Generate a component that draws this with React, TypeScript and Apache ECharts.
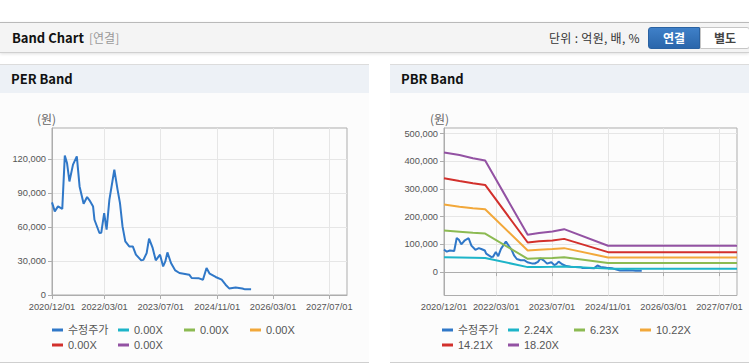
import React, { useEffect, useRef } from 'react';
import * as echarts from 'echarts';

// ---- data ----
const priceDates = [
  '2020-12-01', '2020-12-25', '2021-01-22', '2021-02-28', '2021-03-22', '2021-04-10', '2021-05-01',
  '2021-06-01', '2021-07-04', '2021-07-28', '2021-09-01', '2021-10-01', '2021-10-22', '2021-11-22',
  '2021-12-04', '2022-01-16', '2022-02-01', '2022-02-26', '2022-03-19', '2022-04-12', '2022-05-25',
  '2022-06-22', '2022-07-13', '2022-08-04', '2022-08-28', '2022-10-01', '2022-11-01', '2022-11-28',
  '2023-01-13', '2023-02-01', '2023-03-01', '2023-03-22', '2023-04-22', '2023-05-19', '2023-06-25',
  '2023-07-22', '2023-08-10', '2023-08-28', '2023-09-28', '2023-11-04', '2023-12-10', '2024-03-04',
  '2024-03-25', '2024-05-28', '2024-07-01', '2024-08-01', '2024-08-28', '2024-10-19', '2024-12-10',
  '2025-01-13', '2025-02-13', '2025-04-10', '2025-06-07', '2025-07-01', '2025-08-22',
];
const priceValues = [
  81700, 73800, 78200, 76000, 123000, 116500, 100200,
  115000, 122300, 95800, 80500, 86500, 83500, 78000,
  66400, 54700, 55000, 72300, 57600, 84000, 110500,
  93000, 81000, 60500, 47300, 42900, 42900, 35600,
  30600, 31000, 37000, 49700, 41500, 30600, 35600,
  25200, 29600, 37600, 28200, 21700, 19400, 17900,
  15000, 14700, 13500, 23800, 18800, 15900, 13500,
  9100, 5800, 6700, 5800, 5000, 5000,
];

const bandDates = [
  '2020-12-01', '2021-04-15', '2021-08-10', '2021-11-25', '2022-12-01',
  '2023-03-10', '2023-07-05', '2023-10-15', '2024-11-01', '2027-12-01',
];
const pbrBand224 = [54000, 53000, 52000, 51000, 18000, 18500, 19000, 20000, 12500, 12500];
const pbrBand623 = [150000, 146000, 142000, 139000, 48000, 50000, 51000, 54000, 32500, 32500];
const pbrBand1022 = [244000, 236000, 231000, 227000, 78000, 81000, 83000, 86500, 53000, 53000];
const pbrBand1421 = [339000, 329000, 321000, 315000, 107000, 111000, 114000, 120000, 72000, 72000];
const pbrBand1820 = [432000, 423000, 411000, 403000, 135000, 141000, 147000, 155000, 95000, 95000];

const priceName = '수정주가';
const perBandNames = ['0.00X', '0.00X', '0.00X', '0.00X', '0.00X'];
const pbrBandNames = ['2.24X', '6.23X', '10.22X', '14.21X', '18.20X'];

const xTickLabels = ['2020/12/01', '2022/03/01', '2023/07/01', '2024/11/01', '2026/03/01', '2027/07/01'];
const perYTicks = [0, 30000, 60000, 90000, 120000];
const pbrYTicks = [0, 100000, 200000, 300000, 400000, 500000];

const priceColor = '#3078c8';
const bandColors = ['#1db4c8', '#8cba52', '#f2a83a', '#d2302c', '#9352a3'];

const FONT = "'Liberation Sans', 'Noto Sans CJK KR', sans-serif";
const KFONT = "'Noto Sans CJK KR', sans-serif";

function ts(s: string): number {
  const [y, m, d] = s.split(/[-\/]/).map(Number);
  return Date.UTC(y, m - 1, d);
}
function pad(n: number) {
  return n < 10 ? '0' + n : '' + n;
}
function fmtDate(v: number) {
  const d = new Date(v);
  return `${d.getUTCFullYear()}/${pad(d.getUTCMonth() + 1)}/${pad(d.getUTCDate())}`;
}
function fmtNum(v: number) {
  return Math.round(v).toLocaleString('en-US');
}

function buildOption(kind: 'per' | 'pbr') {
  const isPbr = kind === 'pbr';
  const bandValues = isPbr ? [pbrBand224, pbrBand623, pbrBand1022, pbrBand1421, pbrBand1820] : null;
  const labels = isPbr ? pbrBandNames : perBandNames;
  // unique internal ids so duplicate display labels each get a legend entry
  const ids = labels.map((l, k) => `${l}#${k}`);
  const display: Record<string, string> = { [priceName]: priceName };
  ids.forEach((id, k) => (display[id] = labels[k]));
  const series: any[] = [
    {
      name: priceName,
      type: 'line',
      data: priceDates.map((d, i) => [ts(d), priceValues[i]]),
      showSymbol: false,
      symbol: 'none',
      lineStyle: { color: priceColor, width: 2 },
      itemStyle: { color: priceColor },
    },
  ];
  ids.forEach((id, k) => {
    series.push({
      name: id,
      type: 'line',
      data: bandValues ? bandDates.map((d, i) => [ts(d), bandValues[k][i]]) : [],
      showSymbol: false,
      symbol: 'none',
      lineStyle: { color: bandColors[k], width: 2 },
      itemStyle: { color: bandColors[k] },
    });
  });
  const yTicks = isPbr ? pbrYTicks : perYTicks;
  const xTicks = xTickLabels.map(ts);
  return {
    animation: false,
    textStyle: { fontFamily: FONT },
    grid: isPbr
      ? { left: 59, top: 33, right: 12, bottom: 66.5, show: true, borderColor: '#adadad', borderWidth: 1, outerBoundsMode: 'none', containLabel: false }
      : { left: 52, top: 33, right: 23, bottom: 67, show: true, borderColor: '#adadad', borderWidth: 1, outerBoundsMode: 'none', containLabel: false },
    graphic: [
      {
        type: 'text',
        left: isPbr ? 45 : 37,
        top: 17,
        style: { text: '(원)', fill: '#666', font: `12px ${KFONT}` },
      },
    ],
    legend: {
      left: isPbr ? 57 : 52,
      top: 229,
      width: 262,
      orient: 'horizontal',
      itemWidth: 11,
      itemHeight: 3,
      itemGap: 3,
      icon: 'rect',
      selectedMode: false,
      padding: 0,
      formatter: (name: string) => display[name] ?? name,
      textStyle: { fontSize: 11, color: '#555', fontFamily: FONT, width: 47, lineHeight: 12 },
      data: [priceName, ...ids].map((n) => ({ name: n })),
    },
    xAxis: {
      type: 'value',
      min: ts('2020-12-01'),
      max: ts('2027-12-01'),
      axisLine: { show: true, lineStyle: { color: '#adadad' } },
      axisTick: { show: true, length: 4, lineStyle: { color: '#adadad' }, customValues: xTicks },
      axisLabel: {
        customValues: xTicks,
        formatter: (v: number) => fmtDate(v),
        color: '#555',
        fontSize: 9.3,
        fontFamily: FONT,
        margin: 7,
        showMinLabel: true,
        showMaxLabel: true,
      },
      splitLine: { show: true, lineStyle: { color: '#e6e6e6', width: 1 } },
    },
    yAxis: {
      type: 'value',
      min: isPbr ? -84600 : 0,
      max: isPbr ? 520600 : 147350,
      axisLine: { show: true, lineStyle: { color: '#adadad' } },
      axisTick: { show: true, length: 4, lineStyle: { color: '#adadad' }, customValues: yTicks },
      axisLabel: {
        customValues: yTicks,
        formatter: (v: number) => fmtNum(v),
        color: '#555',
        fontSize: 9.3,
        fontFamily: FONT,
        margin: 6,
      },
      splitLine: { show: true, lineStyle: { color: '#e6e6e6', width: 1 } },
    },
    series,
  };
}

function Chart({ kind, style }: { kind: 'per' | 'pbr'; style: React.CSSProperties }) {
  const ref = useRef<HTMLDivElement>(null);
  useEffect(() => {
    if (!ref.current) return;
    const chart = echarts.init(ref.current, undefined, { renderer: 'svg' });
    chart.setOption(buildOption(kind) as any);
    return () => chart.dispose();
  }, [kind]);
  return <div ref={ref} style={style} />;
}

function Panel({ left, width, title }: { left: number; width: number; title: string }) {
  return (
    <div
      style={{
        position: 'absolute',
        left,
        top: 64,
        width,
        height: 299,
        background: '#fcfcfc',
        borderTop: '1px solid #dcdcdc',
        borderBottom: '1px solid #cfcfcf',
        boxSizing: 'border-box',
      }}
    >
      <div
        style={{
          height: 28,
          background: '#edf1f6',
          fontFamily: KFONT,
          fontWeight: 700,
          fontSize: 13,
          lineHeight: '28px',
          paddingLeft: 11,
          color: '#111',
        }}
      >
        {title}
      </div>
    </div>
  );
}

export default function App() {
  useEffect(() => {
    document.body.style.margin = '0';
  }, []);
  return (
    <div style={{ position: 'fixed', left: 0, top: 0, width: 749, height: 364, background: '#fff', overflow: 'hidden', fontFamily: KFONT }}>
      <div
        style={{
          position: 'absolute',
          left: 0,
          top: 22,
          width: 749,
          height: 31,
          boxSizing: 'border-box',
          background: '#f4f4f4',
          borderTop: '1px solid #b9b9b9',
          borderBottom: '1px solid #d0d0d0',
          boxShadow: '0 1px 3px rgba(0,0,0,0.12)',
        }}
      >
        <span style={{ position: 'absolute', left: 12, top: 6, fontSize: 13, fontWeight: 700, color: '#111', lineHeight: '18px' }}>Band Chart</span>
        <span style={{ position: 'absolute', left: 89, top: 6, fontSize: 12, color: '#999', lineHeight: '18px' }}>[연결]</span>
        <span style={{ position: 'absolute', left: 549, top: 6, fontSize: 12, color: '#333', lineHeight: '18px', letterSpacing: 0.3 }}>단위 : 억원, 배, %</span>
        <div style={{ position: 'absolute', left: 648, top: 4, width: 52, height: 22, boxSizing: 'border-box', background: 'linear-gradient(#3f80c8, #2a66ab)', border: '1px solid #2a62a2', borderRadius: '3px 0 0 3px', color: '#fff', fontWeight: 700, fontSize: 12, lineHeight: '20px', textAlign: 'center' }}>연결</div>
        <div style={{ position: 'absolute', left: 700, top: 4, width: 50, height: 22, boxSizing: 'border-box', background: '#fff', border: '1px solid #c6c6c6', borderRadius: '0 3px 3px 0', color: '#444', fontWeight: 700, fontSize: 12, lineHeight: '20px', textAlign: 'center' }}>별도</div>
      </div>

      <Panel left={0} width={369} title="PER Band" />
      <Panel left={390} width={359} title="PBR Band" />

      <Chart kind="per" style={{ position: 'absolute', left: 0, top: 95, width: 370, height: 267 }} />
      <Chart kind="pbr" style={{ position: 'absolute', left: 385, top: 95, width: 364, height: 267 }} />
    </div>
  );
}
